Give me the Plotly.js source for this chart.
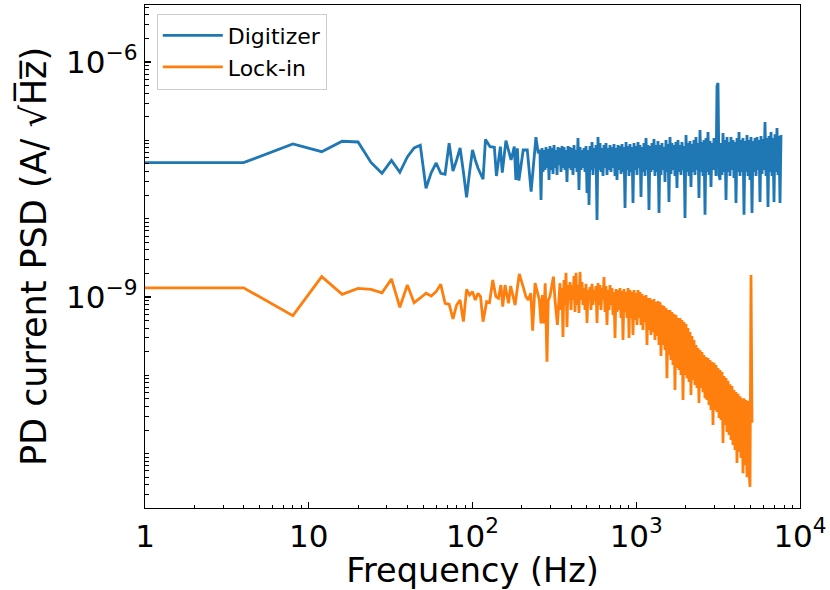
<!DOCTYPE html>
<html><head><meta charset="utf-8">
<script src="https://cdn.plot.ly/plotly-3.0.1.min.js"></script>
<style>html,body{margin:0;padding:0;background:#fff}#chart{width:830px;height:590px}</style>
</head><body><div id="chart"></div>
<script>
const digitizerFreq = [1, 4, 8, 12, 16, 20, 24, 28, 32, 36, 40, 44, 48, 52, 56, 60, 64, 68, 72, 76, 80, 84, 88, 92, 96, 100, 104, 108,
 116, 120, 128, 136, 140, 148, 152, 160, 172, 180, 184, 188, 192, 204, 216, 228, 244, 252,
 258, 262.1, 265.8, 269.5, 273.3, 277.2, 281.1, 285.1, 289.2, 293.3,
 297.4, 301.6, 305.9, 310.2, 314.6, 319.1, 323.6, 328.2, 332.8, 337.5,
 342.2, 347.1, 352.0, 356.9, 362.0, 367.1, 372.3, 377.6, 382.9, 388.4,
 393.9, 399.5, 405.1, 410.9, 416.7, 422.6, 428.6, 434.6, 440.8, 447.0,
 453.5, 459.9, 466.4, 473.0, 479.7, 486.5, 493.4, 500.4, 507.5, 514.7,
 521.9, 529.3, 536.8, 544.4, 552.1, 559.9, 567.8, 575.9, 584.0, 592.3,
 600.6, 609.1, 617.7, 626.5, 635.3, 644.3, 653.5, 662.7, 672.1, 681.6,
 691.4, 701.2, 711.1, 721.2, 731.4, 741.8, 752.3, 762.9, 773.7, 784.7,
 795.9, 807.2, 818.6, 830.2, 842.0, 853.9, 866.0, 878.2, 890.7, 903.3,
 915.9, 928.9, 942.0, 955.4, 968.9, 982.6, 996.5, 1010.6, 1024.9, 1039.5,
 1054, 1069, 1084, 1099, 1115, 1131, 1147, 1163, 1179, 1196,
 1213, 1230, 1248, 1265, 1283, 1301, 1320, 1338, 1357, 1377,
 1396, 1416, 1436, 1456, 1477, 1498, 1519, 1540, 1562, 1584,
 1607, 1630, 1653, 1676, 1700, 1724, 1748, 1773, 1798, 1824,
 1850, 1876, 1903, 1930, 1957, 1985, 2013, 2041, 2070, 2100,
 2129, 2159, 2190, 2221, 2252, 2284, 2316, 2349, 2383, 2416,
 2451, 2486, 2521, 2557, 2593, 2630, 2667, 2705, 2743, 2782,
 2821, 2861, 2902, 2943, 2984, 3027, 3069, 3113, 3157, 3202,
 3247, 3293, 3340, 3387, 3435, 3483, 3533, 3583, 3634, 3685,
 3737, 3790, 3844, 3898, 3953, 4009, 4066, 4124, 4182, 4241,
 4301, 4362, 4424, 4486, 4550, 4614, 4680, 4746, 4813, 4881,
 4951, 5021, 5092, 5164, 5237, 5311, 5387, 5463, 5540, 5619,
 5698, 5779, 5861, 5944, 6028, 6113, 6200, 6288, 6376, 6467,
 6558, 6651, 6745, 6840, 6937, 7036, 7136, 7236, 7339, 7443,
 7549, 7656];
const digitizerPSD = [5.19e-8, 5.19e-8, 9.0e-8, 7.17e-8, 9.74e-8, 9.54e-8, 5.22e-8, 3.80e-8, 5.54e-8, 3.91e-8, 6.14e-8, 8.0e-8, 8.66e-8, 2.45e-8, 3.89e-8, 5.14e-8, 3.80e-8, 3.69e-8, 9.18e-8, 4.07e-8, 5.62e-8, 8.0e-8, 3.94e-8, 1.88e-8, 3.94e-8, 7.54e-8, 5.62e-8, 4.44e-8,
 3.19e-8, 1.03e-7, 8.31e-8, 8.16e-8, 3.51e-8, 8.31e-8, 3.87e-8, 9.91e-8, 5.62e-8, 8.31e-8, 3.12e-8, 7.93e-8, 3.06e-8, 7.54e-8, 7.54e-8, 2.21e-8, 1.10e-7, 6.84e-8,
 7.54e-8, 1.73e-8, 8.0e-8, 3.94e-8, 7.54e-8, 4.19e-8, 8.24e-8, 4.44e-8, 7.77e-8, 3.12e-8,
 8.49e-8, 4.19e-8, 8.0e-8, 3.72e-8, 8.74e-8, 4.44e-8, 7.54e-8, 3.61e-8, 8.24e-8, 4.86e-8,
 8.0e-8, 3.94e-8, 8.49e-8, 4.44e-8, 8.24e-8, 4.19e-8, 7.54e-8, 2.94e-8, 8.49e-8, 4.44e-8,
 8.24e-8, 4.19e-8, 8.0e-8, 3.61e-8, 8.74e-8, 4.44e-8, 7.54e-8, 3.94e-8, 1.07e-7, 2.33e-8,
 8.24e-8, 4.19e-8, 7.54e-8, 4.44e-8, 8.0e-8, 3.94e-8, 8.49e-8, 2.13e-8, 7.54e-8, 1.50e-8,
 8.49e-8, 4.19e-8, 9.54e-8, 3.61e-8, 8.0e-8, 4.44e-8, 8.74e-8, 9.6e-9, 1.10e-7, 4.19e-8,
 9.27e-8, 3.94e-8, 8.0e-8, 3.51e-8, 8.74e-8, 4.44e-8, 9.27e-8, 3.61e-8, 8.0e-8, 4.19e-8,
 8.74e-8, 3.94e-8, 8.24e-8, 4.44e-8, 9.0e-8, 3.51e-8, 8.0e-8, 3.12e-8, 8.74e-8, 4.19e-8,
 8.49e-8, 3.72e-8, 9.0e-8, 3.94e-8, 8.24e-8, 1.37e-8, 9.54e-8, 4.19e-8, 8.49e-8, 3.51e-8,
 9.0e-8, 3.94e-8, 8.24e-8, 1.59e-8, 9.27e-8, 4.19e-8, 8.49e-8, 3.61e-8, 9.54e-8, 4.44e-8,
 8.74e-8, 1.89e-8, 8.24e-8, 3.94e-8, 9.27e-8, 3.51e-8, 1.07e-7, 4.19e-8, 8.74e-8, 1.29e-8,
 8.49e-8, 3.94e-8, 9.27e-8, 4.19e-8, 1.04e-7, 3.51e-8, 8.74e-8, 3.94e-8, 9.82e-8, 1.18e-8,
 8.74e-8, 3.61e-8, 9.27e-8, 4.19e-8, 8.24e-8, 2.94e-8, 1.01e-7, 3.94e-8, 9.0e-8, 1.63e-8,
 1.10e-7, 3.72e-8, 9.27e-8, 4.19e-8, 8.74e-8, 3.51e-8, 9.54e-8, 2.47e-8, 1.01e-7, 3.94e-8,
 8.74e-8, 3.61e-8, 9.54e-8, 4.19e-8, 8.49e-8, 1.02e-8, 1.17e-7, 3.94e-8, 9.27e-8, 3.51e-8,
 9.82e-8, 2.54e-8, 9.0e-8, 3.94e-8, 1.01e-7, 3.61e-8, 1.10e-7, 4.19e-8, 9.27e-8, 1.84e-8,
 1.36e-7, 3.94e-8, 9.54e-8, 3.51e-8, 1.01e-7, 1.12e-8, 1.07e-7, 3.94e-8, 1.28e-7, 3.61e-8,
 9.82e-8, 2.54e-8, 9.27e-8, 4.19e-8, 1.07e-7, 7.54e-8, 3.51e-8, 4.95e-7, 5.4e-7, 3.61e-8,
 3.12e-8, 9.27e-8, 3.61e-8, 1.24e-7, 3.94e-8, 1.01e-7, 1.73e-8, 1.10e-7, 3.94e-8, 9.54e-8,
 3.51e-8, 1.10e-7, 4.19e-8, 1.01e-7, 3.30e-8, 9.54e-8, 1.59e-8, 1.07e-7, 3.94e-8, 1.28e-7,
 3.51e-8, 1.01e-7, 3.94e-8, 1.07e-7, 1.12e-8, 9.82e-8, 3.94e-8, 1.17e-7, 3.51e-8, 1.01e-7,
 3.12e-8, 1.10e-7, 1.18e-8, 9.82e-8, 3.94e-8, 1.07e-7, 3.51e-8, 1.10e-7, 4.19e-8, 1.01e-7,
 1.63e-8, 1.135e-7, 3.72e-8, 1.04e-7, 4.19e-8, 1.72e-7, 3.51e-8, 1.07e-7, 1.41e-8, 1.135e-7,
 3.94e-8, 1.28e-7, 3.51e-8, 1.07e-7, 1.63e-8, 1.20e-7, 3.94e-8, 1.44e-7, 3.61e-8, 1.135e-7,
 1.59e-8, 1.17e-7];

const lockinFreq = [1, 4, 8, 12, 16, 20, 24, 28, 32, 36, 40, 44, 48, 52, 56, 60, 64, 68, 72, 76, 80, 84, 88, 92, 96, 100, 104, 108,
 112, 116, 122, 127, 133, 139, 144, 149, 153, 158, 166, 171, 182, 193, 204, 212, 219, 227, 233, 241, 256, 262, 267, 272, 278, 285, 290, 297, 312, 319, 330, 342.2,
 347.1, 352.0, 356.9, 362.0, 367.1, 372.3, 377.6, 382.9, 388.4,
 393.9, 399.5, 405.1, 410.9, 416.7, 422.6, 428.6, 434.6, 440.8, 447.0,
 453.5, 459.9, 466.4, 473.0, 479.7, 486.5, 493.4, 500.4, 507.5, 514.7,
 521.9, 529.3, 536.8, 544.4, 552.1, 559.9, 567.8, 575.9, 584.0, 592.3,
 600.6, 609.1, 617.7, 626.5, 635.3, 644.3, 653.5, 662.7, 672.1, 681.6,
 691.4, 701.2, 711.1, 721.2, 731.4, 741.8, 752.3, 762.9, 773.7, 784.7,
 795.9, 807.2, 818.6, 830.2, 842.0, 853.9, 866.0, 878.2, 890.7, 903.3,
 915.9, 928.9, 942.0, 955.4, 968.9, 982.6, 996.5, 1010.6, 1024.9, 1039.5,
 1054, 1069, 1084, 1099, 1115, 1131, 1147, 1163, 1179, 1196,
 1213, 1230, 1248, 1265, 1283, 1301, 1320, 1338, 1357, 1377,
 1396, 1416, 1436, 1456, 1477, 1498, 1519, 1540, 1562, 1584,
 1607, 1630, 1653, 1676, 1700, 1724, 1748, 1773, 1798, 1824,
 1850, 1876, 1903, 1930, 1957, 1985, 2013, 2041, 2070, 2100,
 2129, 2159, 2190, 2221, 2252, 2284, 2316, 2349, 2383, 2416,
 2451, 2486, 2521, 2557, 2593, 2630, 2667, 2705, 2743, 2782,
 2821, 2861, 2902, 2943, 2984, 3027, 3069, 3113, 3157, 3202,
 3247, 3293, 3340, 3387, 3435, 3483, 3533, 3583, 3634, 3685,
 3737, 3790, 3844, 3898, 3953, 4009, 4066, 4124, 4182, 4241,
 4301, 4362, 4424, 4486, 4550, 4614, 4680, 4746, 4813, 4881,
 4951, 5021, 5092];
const lockinPSD = [1.31e-9, 1.31e-9, 5.77e-10, 1.82e-9, 1.08e-9, 1.29e-9, 1.25e-9, 1.13e-9, 1.70e-9, 7.39e-10, 1.42e-9, 8.46e-10, 9.71e-10, 1.115e-9, 1.03e-9, 1.17e-9, 1.45e-9, 8.31e-10, 8.07e-10, 5.24e-10, 7.90e-10, 9.15e-10, 4.84e-10, 1.25e-9, 1.06e-9, 1.17e-9, 9.15e-10, 1.115e-9,
 1.01e-9, 4.84e-10, 8.71e-10, 8.46e-10, 1.65e-9, 1.01e-9, 9.63e-10, 1.42e-9, 7.52e-10, 1.42e-9, 8.31e-10, 1.38e-9, 7.90e-10, 1.97e-9, 1.35e-9, 1.01e-9, 9.15e-10, 1.115e-9, 3.71e-10, 1.50e-9, 9.15e-10, 4.61e-10, 1.06e-9, 4.61e-10, 1.50e-9, 1.49e-10, 9.15e-10, 1.01e-9, 1.82e-9, 9.15e-10, 4.39e-10, 1.50e-9,
 6.82e-10, 1.30e-9, 3.08e-10, 1.65e-9, 7.90e-10, 2.03e-9, 4.14e-10, 1.42e-9, 9.15e-10,
 1.555e-9, 6.82e-10, 1.42e-9, 9.15e-10, 1.85e-9, 6.43e-10, 2.03e-9, 7.90e-10, 1.42e-9, 6.25e-10,
 2.09e-9, 9.15e-10, 1.555e-9, 7.90e-10, 1.30e-9, 6.82e-10, 1.47e-9, 4.66e-10, 1.23e-9, 9.15e-10,
 1.34e-9, 6.82e-10, 1.47e-9, 7.90e-10, 1.23e-9, 9.15e-10, 1.38e-9, 4.66e-10, 1.51e-9, 7.90e-10,
 1.42e-9, 6.82e-10, 1.30e-9, 9.15e-10, 1.80e-9, 6.43e-10, 1.38e-9, 4.39e-10, 1.23e-9, 6.82e-10,
 1.42e-9, 7.90e-10, 1.30e-9, 5.89e-10, 1.16e-9, 2.99e-10, 1.265e-9, 6.43e-10, 1.23e-9, 6.82e-10,
 1.30e-9, 5.39e-10, 1.19e-9, 2.82e-10, 1.265e-9, 6.43e-10, 1.16e-9, 5.39e-10, 1.30e-9, 2.99e-10,
 1.23e-9, 5.39e-10, 1.16e-9, 3.27e-10, 1.23e-9, 5.08e-10, 1.125e-9, 4.39e-10, 1.23e-9, 5.39e-10,
 1.16e-9, 4.39e-10, 1.09e-9, 3.79e-10, 1.03e-9, 4.79e-10, 1.06e-9, 2.44e-10, 9.71e-10, 3.79e-10,
 9.71e-10, 3.27e-10, 9.15e-10, 3.57e-10, 9.43e-10, 2.82e-10, 8.63e-10, 3.18e-10, 8.89e-10, 2.44e-10,
 8.63e-10, 1.76e-10, 7.90e-10, 2.44e-10, 7.67e-10, 2.10e-10, 7.24e-10, 9.2e-11, 6.82e-10, 1.82e-10,
 6.82e-10, 1.57e-10, 6.43e-10, 1.35e-10, 6.07e-10, 6.5e-11, 5.89e-10, 1.24e-10, 5.39e-10, 1.17e-10,
 5.39e-10, 1.01e-10, 5.08e-10, 4.84e-11, 4.79e-10, 1.01e-10, 4.52e-10, 9.2e-11, 4.02e-10, 8.2e-11,
 3.57e-10, 5.6e-11, 3.18e-10, 8.7e-11, 2.82e-10, 7.5e-11, 2.44e-10, 6.9e-11, 2.23e-10, 4.43e-11,
 2.10e-10, 6.9e-11, 1.98e-10, 6.1e-11, 1.82e-10, 5.1e-11, 1.71e-10, 4.84e-11, 1.66e-10, 4.18e-11,
 1.57e-10, 3.61e-11, 1.48e-10, 2.32e-11, 1.44e-10, 3.61e-11, 1.35e-10, 3.40e-11, 1.24e-10, 2.86e-11,
 1.17e-10, 2.69e-11, 1.10e-10, 1.37e-11, 9.8e-11, 2.32e-11, 9.2e-11, 1.89e-11, 8.5e-11, 1.73e-11,
 7.7e-11, 1.49e-11, 7.3e-11, 1.29e-11, 6.5e-11, 1.11e-11, 6.1e-11, 7.6e-12, 5.8e-11, 1.05e-11,
 5.4e-11, 8.8e-12, 5.1e-11, 5.6e-12, 5.1e-11, 7.1e-12, 4.84e-11, 5.0e-12, 4.70e-11, 6.2e-12,
 3.75e-12, 1.91e-9, 2.47e-11];

const seriesNames = ['Digitizer', 'Lock-in'];
const seriesColors = ['#1f77b4', '#ff7f0e'];
const xTickVals = [1, 10, 100, 1000, 10000];
const xTickText = ['1', '10', '10<sup>2</sup>', '10<sup>3</sup>', '10<sup>4</sup>'];
const yTickVals = [1e-6, 1e-9];
const yTickText = ['10<sup>\u22126</sup>', '10<sup>\u22129</sup>'];

function minorTicks(eLo, eHi, exclude) {
  const v = [];
  for (let e = eLo; e <= eHi; e++) {
    for (let k = 1; k <= 9; k++) {
      const t = k * Math.pow(10, e);
      if (!exclude.some(x => Math.abs(x / t - 1) < 1e-6)) v.push(t);
    }
  }
  return v;
}
const xMinor = minorTicks(0, 3, xTickVals);
const yMinor = minorTicks(-12, -6, yTickVals);

const traces = [
  {x: digitizerFreq, y: digitizerPSD, name: seriesNames[0], type: 'scatter', mode: 'lines',
   line: {color: seriesColors[0], width: 2.8, simplify: false}},
  {x: lockinFreq, y: lockinPSD, name: seriesNames[1], type: 'scatter', mode: 'lines',
   line: {color: seriesColors[1], width: 2.8, simplify: false}}
];

const axisCommon = {
  ticks: 'inside', ticklen: 6, tickwidth: 1.2, tickcolor: 'black',
  showline: true, linecolor: 'black', linewidth: 1.3, mirror: true,
  showgrid: false, zeroline: false, tickfont: {size: 31, color: 'black'}
};

const layout = {
  width: 830, height: 590,
  margin: {l: 145, r: 30, t: 5, b: 82},
  paper_bgcolor: 'white', plot_bgcolor: 'white',
  font: {family: 'DejaVu Sans', color: 'black'},
  showlegend: true,
  legend: {x: 0.018, y: 0.983, xanchor: 'left', yanchor: 'top', bgcolor: 'white',
           bordercolor: '#cccccc', borderwidth: 1, itemwidth: 60,
           font: {size: 22, color: 'black'}},
  xaxis: Object.assign({}, axisCommon, {
    type: 'log', range: [0, 4], tickmode: 'array', tickvals: xTickVals, ticktext: xTickText,
    title: {text: 'Frequency (Hz)', font: {size: 33.5}},
    minor: {tickmode: 'array', tickvals: xMinor, ticks: 'inside', ticklen: 3.5, tickwidth: 1, tickcolor: 'black', showgrid: false}
  }),
  yaxis: Object.assign({}, axisCommon, {
    type: 'log', range: [-11.695, -5.271], tickmode: 'array', tickvals: yTickVals, ticktext: yTickText,
    title: {text: 'PD current PSD (A/ \u221AH\u0305z\u0305)', font: {size: 35}, standoff: 8},
    minor: {tickmode: 'array', tickvals: yMinor, ticks: 'inside', ticklen: 3.5, tickwidth: 1, tickcolor: 'black', showgrid: false}
  })
};

Plotly.newPlot('chart', traces, layout, {staticPlot: true, displayModeBar: false});
</script>
</body></html>
